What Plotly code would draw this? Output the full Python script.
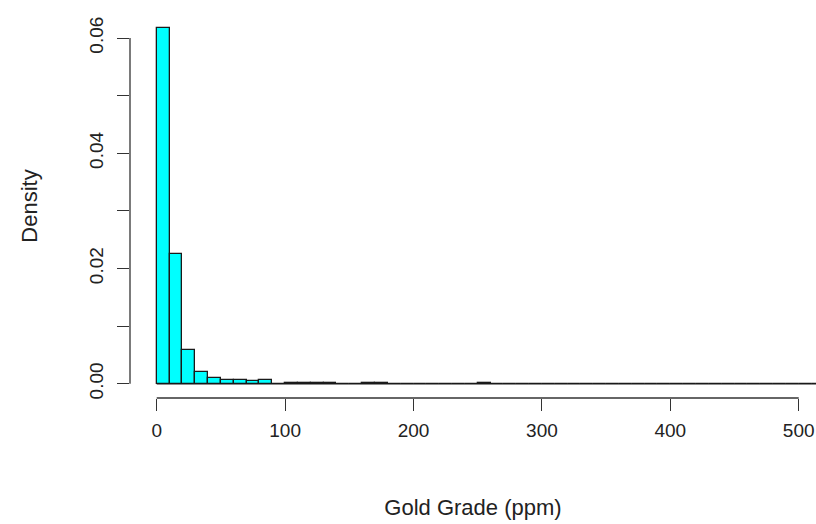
import plotly.graph_objects as go

# Histogram bins (ppm), width 10
bin_edges = list(range(0, 530, 10))
density = [0.0617, 0.0226, 0.0058, 0.0021, 0.0010, 0.0006, 0.0006, 0.0004, 0.0007, 0.0,
           0.0001, 0.0001, 0.0001, 0.0001, 0.0, 0.0, 0.0001, 0.0001, 0.0, 0.0,
           0.0, 0.0, 0.0, 0.0, 0.0, 0.0001, 0.0, 0.0, 0.0, 0.0,
           0.0, 0.0, 0.0, 0.0, 0.0, 0.0, 0.0, 0.0, 0.0, 0.0,
           0.0, 0.0, 0.0, 0.0, 0.0, 0.0, 0.0, 0.0, 0.0, 0.0,
           0.0, 0.0]
x_ticks = [0, 100, 200, 300, 400, 500]
y_ticks = [0.0, 0.01, 0.02, 0.03, 0.04, 0.05, 0.06]
y_tick_text = ["0.00", "", "0.02", "", "0.04", "", "0.06"]

mids = [(a + b) / 2 for a, b in zip(bin_edges[:-1], bin_edges[1:])]
widths = [b - a for a, b in zip(bin_edges[:-1], bin_edges[1:])]

FONT = "Liberation Sans, Arial, sans-serif"
AX = "#333333"

fig = go.Figure()
fig.add_trace(go.Bar(x=mids, y=density, width=widths,
                     marker=dict(color="#00FFFF", line=dict(color="#1a1a1a", width=1.3)),
                     showlegend=False, hoverinfo="x+y"))
# zero-height bins drawn as a baseline (as R does)
fig.add_trace(go.Scatter(x=[bin_edges[0], bin_edges[-1]], y=[0, 0], mode="lines",
                         line=dict(color="#1a1a1a", width=1.3), showlegend=False,
                         hoverinfo="skip"))

xmax = bin_edges[-1]
ymax = max(density)
xlo = -0.04 * xmax
ylo, yhi = -0.04 * ymax, 1.04 * ymax
W, H = 816, 524
ml, mt, mb = 130, 14, 126
px_per_unit = 1.284
xhi = xlo + (W - ml) / px_per_unit

fig.update_layout(
    width=W, height=H, margin=dict(l=ml, r=0, t=mt, b=mb),
    paper_bgcolor="white", plot_bgcolor="white",
    bargap=0, font=dict(family=FONT, size=19, color="#222222"),
    xaxis=dict(range=[xlo, xhi], tickvals=x_ticks, ticks="outside", ticklen=12,
               tickwidth=1.3, tickcolor=AX, showgrid=False, zeroline=False,
               showline=False, ticklabelstandoff=3,
               title=dict(text="Gold Grade (ppm)", standoff=59, font=dict(size=22)),
               tickfont=dict(size=19)),
    yaxis=dict(range=[ylo, yhi], tickvals=y_ticks, ticktext=y_tick_text,
               ticks="outside", ticklen=12, tickwidth=1.3, tickcolor=AX,
               tickangle=-90, showgrid=False, zeroline=False, showline=False,
               ticklabelstandoff=6,
               title=dict(text="Density", standoff=42, font=dict(size=22)),
               tickfont=dict(size=19)),
    shapes=[
        dict(type="line", xref="x", yref="paper", x0=x_ticks[0], x1=x_ticks[-1],
             y0=0, y1=0, line=dict(color=AX, width=1.3)),
        dict(type="line", xref="paper", yref="y", x0=0, x1=0,
             y0=y_ticks[0], y1=y_ticks[-1], line=dict(color=AX, width=1.3)),
    ],
)
fig.write_html("out.html")
